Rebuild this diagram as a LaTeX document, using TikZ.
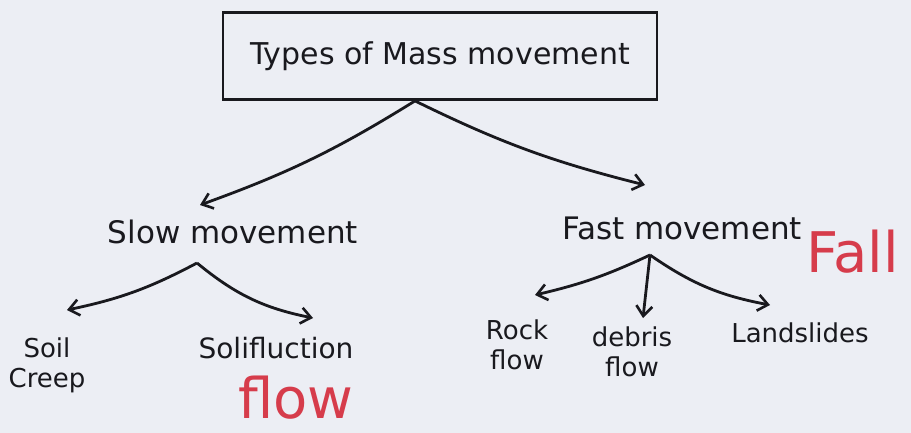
\documentclass[tikz,border=0pt]{standalone}
\usepackage{fontspec}
\setmainfont{DejaVu Sans}
\usetikzlibrary{arrows.meta}
\definecolor{paper}{RGB}{236,238,244}
\definecolor{ink}{RGB}{25,25,30}
\definecolor{mred}{RGB}{214,60,75}
\begin{document}
\begin{tikzpicture}[x=1pt,y=-1pt,
  lbl/.style={text=ink, inner sep=0pt, font=\fontsize{31}{34}\selectfont},
  small/.style={text=ink, inner sep=0pt, align=center, font=\fontsize{26}{30}\selectfont},
  redtxt/.style={text=mred, inner sep=0pt, font=\fontsize{56}{60}\selectfont},
  arr/.style={draw=ink, line width=2.8pt, -{Straight Barb[length=10pt,width=16pt,line width=2.6pt]}}]
\useasboundingbox (0,0) rectangle (911,433);
\fill[paper] (0,0) rectangle (911,433);
\node[draw=ink, line width=2.8pt, minimum width=434pt, minimum height=87pt, inner sep=0pt, font=\fontsize{30}{34}\selectfont, text=ink] (top) at (440,56) {Types of Mass movement};
\node[lbl] (slow) at (233,232) {Slow movement};
\node[lbl] (fast) at (682,228) {Fast movement};
\node[small] (soil) at (47,365) {Soil\\Creep};
\node[small, font=\fontsize{28}{30}\selectfont] (soli) at (276,348) {Solifluction};
\node[redtxt] (flow) at (296,398) {flow};
\node[small] (rock) at (517,345) {Rock\\flow};
\node[small] (debris) at (632,352) {debris\\flow};
\node[small] (land) at (800,333) {Landslides};
\node[redtxt, anchor=west] (fall) at (806,252) {Fall};
\coordinate (topout) at ([xshift=-25pt]top.south);
\coordinate (slowin) at (200,205);
\coordinate (fastin) at (645,185);
\coordinate (slowout) at (197,263);
\coordinate (soilin) at (67,310);
\coordinate (soliin) at (313,318);
\coordinate (fastout) at (650,255);
\coordinate (rockin) at (535,295);
\coordinate (debrisin) at (643,318);
\coordinate (landin) at (770,305);
\draw[arr] (topout) to[bend left=6] (slowin);
\draw[arr] (topout) to[bend right=6] (fastin);
\draw[arr] (slowout) to[bend left=8] (soilin);
\draw[arr] (slowout) to[bend right=14] (soliin);
\draw[arr] (fastout) to[bend left=6] (rockin);
\draw[arr] (fastout) to (debrisin);
\draw[arr] (fastout) to[bend right=12] (landin);
\end{tikzpicture}
\end{document}
